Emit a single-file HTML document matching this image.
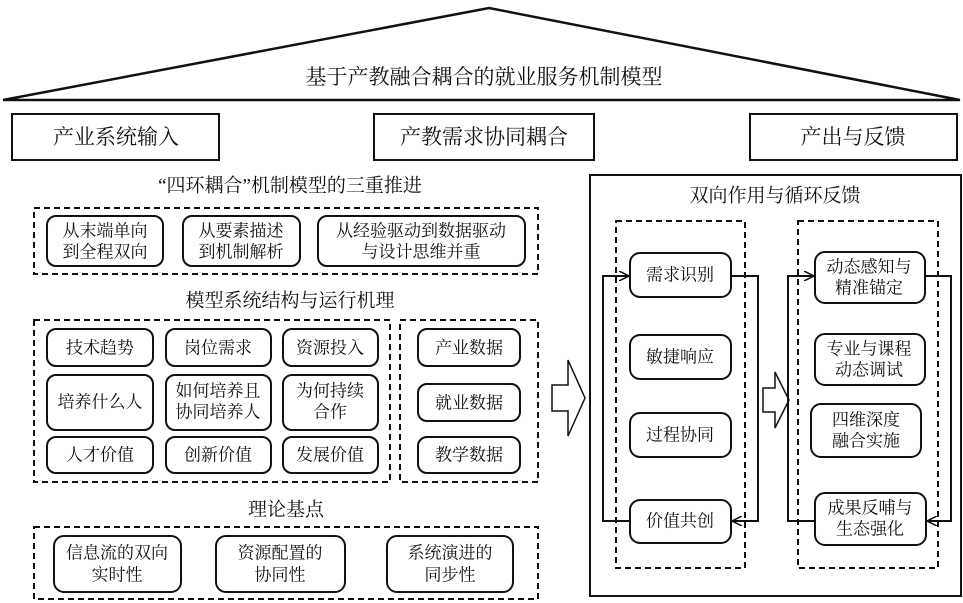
<!DOCTYPE html>
<html><head><meta charset="utf-8"><style>
html,body{margin:0;padding:0;background:#fff;}
svg{display:block;}
text{font-family:"Liberation Serif","Noto Serif CJK SC",serif;fill:#111;text-anchor:middle;dominant-baseline:central;}
.r{fill:#fff;stroke:#111;stroke-width:2;}
.d{fill:none;stroke:#111;stroke-width:2;stroke-dasharray:6,4;}
.s{fill:none;stroke:#111;stroke-width:2;}
.t{font-size:17px;}
</style></head><body>
<svg width="963" height="603" viewBox="0 0 963 603" xmlns="http://www.w3.org/2000/svg">
<defs><marker id="a" markerWidth="10" markerHeight="10" refX="9" refY="5" orient="auto" markerUnits="userSpaceOnUse"><path d="M0,0 L10,5 L0,10" fill="none" stroke="#111" stroke-width="1.5"/></marker></defs>
<polygon points="3,100 489,8 960,100" fill="none" stroke="#111" stroke-width="2.5"/>
<text x="484" y="77" style="font-size:21px">基于产教融合耦合的就业服务机制模型</text>
<rect x="12" y="114" width="207" height="46" class="s"/><text x="116" y="137" style="font-size:21px">产业系统输入</text>
<rect x="374" y="114" width="220" height="46" class="s"/><text x="484" y="137" style="font-size:21px">产教需求协同耦合</text>
<rect x="750" y="114" width="207" height="46" class="s"/><text x="853" y="137" style="font-size:21px">产出与反馈</text>

<text x="290" y="186" style="font-size:19px">“四环耦合”机制模型的三重推进</text>
<rect x="34" y="208" width="504" height="66" class="d"/>
<rect x="47" y="216" width="116" height="50" rx="9" class="r"/><text x="105" y="231" class="t">从末端单向</text><text x="105" y="252" class="t">到全程双向</text>
<rect x="183" y="216" width="117" height="50" rx="9" class="r"/><text x="241" y="231" class="t">从要素描述</text><text x="241" y="252" class="t">到机制解析</text>
<rect x="318" y="216" width="207" height="50" rx="9" class="r"/><text x="421" y="231" class="t">从经验驱动到数据驱动</text><text x="421" y="252" class="t">与设计思维并重</text>

<text x="290" y="301" style="font-size:19px">模型系统结构与运行机理</text>
<rect x="34" y="320" width="356" height="162" class="d"/>
<rect x="400" y="320" width="138" height="162" class="d"/>
<rect x="47" y="329" width="106" height="37" rx="9" class="r"/><text x="100" y="348" class="t">技术趋势</text>
<rect x="166" y="329" width="105" height="37" rx="9" class="r"/><text x="218" y="348" class="t">岗位需求</text>
<rect x="283" y="329" width="95" height="37" rx="9" class="r"/><text x="330" y="348" class="t">资源投入</text>
<rect x="47" y="375" width="106" height="55" rx="9" class="r"/><text x="100" y="402" class="t">培养什么人</text>
<rect x="166" y="375" width="105" height="55" rx="9" class="r"/><text x="218" y="391" class="t">如何培养且</text><text x="218" y="412" class="t">协同培养人</text>
<rect x="283" y="375" width="95" height="55" rx="9" class="r"/><text x="330" y="391" class="t">为何持续</text><text x="330" y="412" class="t">合作</text>
<rect x="47" y="437" width="106" height="36" rx="9" class="r"/><text x="100" y="455" class="t">人才价值</text>
<rect x="166" y="437" width="105" height="36" rx="9" class="r"/><text x="218" y="455" class="t">创新价值</text>
<rect x="283" y="437" width="95" height="36" rx="9" class="r"/><text x="330" y="455" class="t">发展价值</text>
<rect x="418" y="329" width="102" height="37" rx="9" class="r"/><text x="469" y="348" class="t">产业数据</text>
<rect x="418" y="384" width="102" height="37" rx="9" class="r"/><text x="469" y="403" class="t">就业数据</text>
<rect x="418" y="437" width="102" height="36" rx="9" class="r"/><text x="469" y="455" class="t">教学数据</text>

<text x="286" y="510" style="font-size:19px">理论基点</text>
<rect x="34" y="527" width="504" height="72" class="d"/>
<rect x="54" y="536" width="127" height="56" rx="10" class="r"/><text x="117" y="553" class="t">信息流的双向</text><text x="117" y="575" class="t">实时性</text>
<rect x="216" y="536" width="129" height="56" rx="10" class="r"/><text x="280" y="553" class="t">资源配置的</text><text x="280" y="575" class="t">协同性</text>
<rect x="387" y="536" width="126" height="56" rx="10" class="r"/><text x="450" y="553" class="t">系统演进的</text><text x="450" y="575" class="t">同步性</text>

<polygon points="552,385 568,385 568,360 585,398 568,436 568,411 552,411" fill="#fff" stroke="#111" stroke-width="1.5"/>

<rect x="590" y="175" width="371" height="421" class="s"/>
<text x="775" y="196" style="font-size:19px">双向作用与循环反馈</text>
<rect x="616" y="221" width="129" height="347" class="d"/>
<rect x="798" y="221" width="140" height="347" class="d"/>
<rect x="630" y="253" width="101" height="44" rx="10" class="r"/><text x="680" y="275" class="t">需求识别</text>
<rect x="630" y="335" width="101" height="44" rx="10" class="r"/><text x="680" y="357" class="t">敏捷响应</text>
<rect x="630" y="413" width="101" height="44" rx="10" class="r"/><text x="680" y="435" class="t">过程协同</text>
<rect x="630" y="500" width="101" height="43" rx="10" class="r"/><text x="680" y="521" class="t">价值共创</text>
<polyline points="731,276 758,276 758,521 733,521" class="s" marker-end="url(#a)"/>
<polyline points="630,521 603,521 603,276 628,276" class="s" marker-end="url(#a)"/>

<polygon points="763,388 775,388 775,372 789,400 775,428 775,412 763,412" fill="#fff" stroke="#111" stroke-width="1.5"/>

<rect x="815" y="252" width="110" height="51" rx="10" class="r"/><text x="869" y="267" class="t">动态感知与</text><text x="869" y="288" class="t">精准锚定</text>
<rect x="815" y="334" width="110" height="51" rx="10" class="r"/><text x="869" y="349" class="t">专业与课程</text><text x="869" y="370" class="t">动态调试</text>
<rect x="811" y="404" width="110" height="53" rx="10" class="r"/><text x="866" y="420" class="t">四维深度</text><text x="866" y="441" class="t">融合实施</text>
<rect x="815" y="493" width="111" height="52" rx="10" class="r"/><text x="870" y="508" class="t">成果反哺与</text><text x="870" y="529" class="t">生态强化</text>
<polyline points="925,276 951,276 951,521 928,521" class="s" marker-end="url(#a)"/>
<polyline points="815,521 788,521 788,276 813,276" class="s" marker-end="url(#a)"/>
</svg>
</body></html>
